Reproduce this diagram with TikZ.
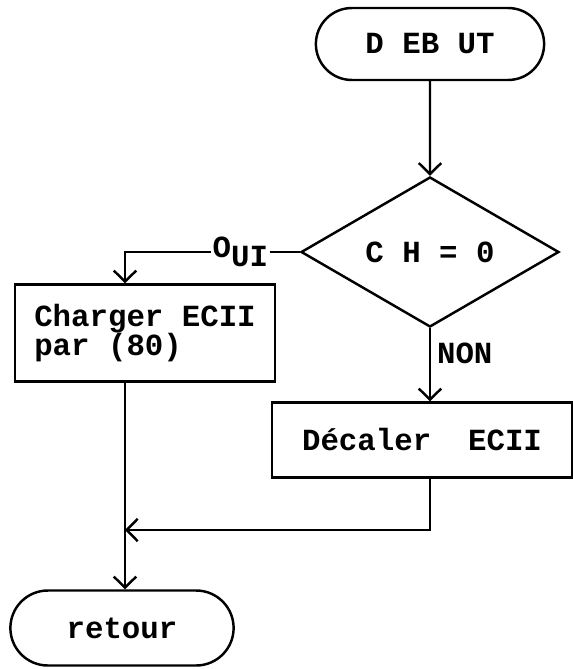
\documentclass[tikz,border=0pt]{standalone}
\usepackage{fontspec}
\newfontfamily\typew{Liberation Mono}
\usetikzlibrary{arrows.meta,positioning,shapes.geometric,shapes.misc}

\begin{document}
\begin{tikzpicture}[x=0.02cm,y=-0.02cm,line width=1.4pt,
  every node/.style={font={\typew\bfseries\fontsize{17.5}{17}\selectfont}},
  term/.style={draw,rounded rectangle,minimum width=4.8cm,minimum height=1.44cm},
  actbox/.style={draw,rectangle,align=left},
  test/.style={draw,diamond,inner sep=0pt,minimum width=5.16cm,minimum height=2.9cm},
  flow/.style={-{Straight Barb[length=2.2mm,width=4.5mm]}}]
\useasboundingbox (0,0) rectangle (573,669);
\node[term] (debut) at (430,44) {D EB UT};
\node[test] (ch) at (430,252) {C H = 0};
\node[actbox,minimum width=5.2cm,minimum height=1.94cm] (charger) at (145,333) {Charger ECII\\par (80)};
\node[actbox,minimum width=6cm,minimum height=1.5cm] (decaler) at (422,440) {D\'ecaler\ \ ECII};
\node[term,minimum width=4.7cm,minimum height=1.5cm] (retour) at (122,628) {retour};
\coordinate (join) at (125,530);
\draw[flow] (debut) -- (ch);
\draw[flow] (ch.west) -| node[pos=0.17,fill=white,inner sep=1pt] {O\raisebox{-0.3em}{UI}} (charger.north -| join);
\draw[flow] (ch.south) -- node[right,pos=0.35] {NON} (ch.south |- decaler.north);
\draw[flow] (charger.south -| join) -- (retour.north -| join);
\draw[flow] (decaler.south -| ch.south) |- (join);
\end{tikzpicture}
\end{document}
